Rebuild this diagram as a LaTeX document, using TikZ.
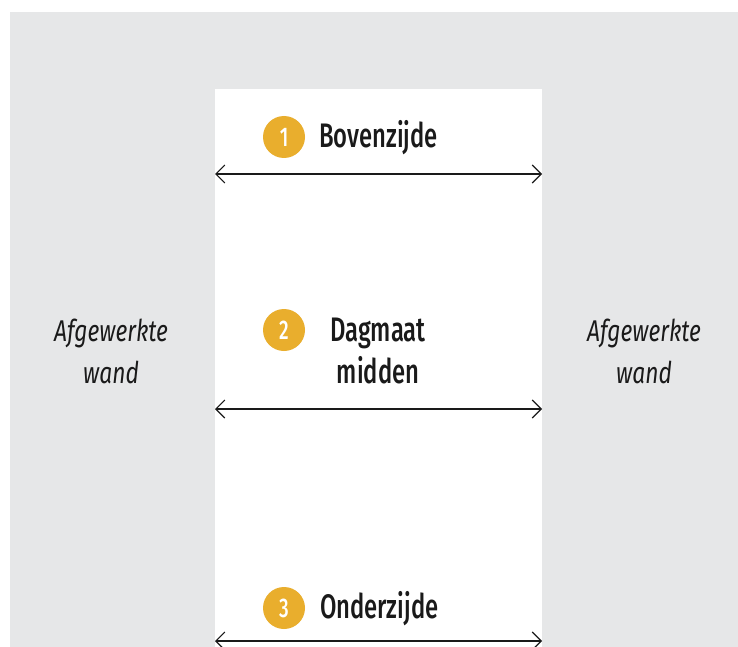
\documentclass[tikz,border=0pt]{standalone}
\usepackage{fontspec}
\setmainfont[FakeStretch=0.78]{Fira Sans}
\newfontfamily\labfont[FakeStretch=0.70,UprightFont=* Medium]{Fira Sans}
\newfontfamily\wallfont[FakeStretch=0.76]{Fira Sans}
\usetikzlibrary{arrows.meta}
\definecolor{wallgray}{HTML}{E6E7E8}
\definecolor{badge}{HTML}{E9AE2D}
\definecolor{ink}{HTML}{1A1A1A}
\begin{document}
\begin{tikzpicture}[x=1pt,y=-1pt,
  badgecirc/.style={circle,fill=badge,minimum size=42pt,inner sep=0pt,text=white,font=\labfont\fontsize{27}{27}\selectfont},
  lab/.style={anchor=base west,text=ink,font=\labfont\fontsize{34}{42}\selectfont,inner sep=0pt},
  wall/.style={text=ink,font=\wallfont\itshape\fontsize{30}{42}\selectfont,align=center,inner sep=0pt},
  dim/.style={draw=ink,line width=1.1pt,{Straight Barb[length=9pt,width=18pt,line width=1.1pt]}-{Straight Barb[length=9pt,width=18pt,line width=1.1pt]}}]
\useasboundingbox (0,0) rectangle (738,647);
\fill[wallgray] (10,12) rectangle (738,647);
\fill[white] (215,89) rectangle (542,647);
% badges
\node[badgecirc] (b1) at (284,137) {1};
\node[badgecirc] (b2) at (284,330) {2};
\node[badgecirc] (b3) at (284,608) {3};
% labels
\node[lab] (t1) at (319,148) {Bovenzijde};
\node[anchor=base,text=ink,font=\labfont\fontsize{34}{42}\selectfont,inner sep=0pt,align=center] (t2) at (378,383) {Dagmaat\\midden};
\node[lab] (t3) at (320,618) {Onderzijde};
% walls
\node[wall,anchor=base] (w1) at (111,383) {Afgewerkte\\wand};
\node[wall,anchor=base] (w2) at (644,383) {Afgewerkte\\wand};
% dimension arrows
\coordinate (a1l) at (215,174); \coordinate (a1r) at (542,174);
\coordinate (a2l) at (215,409); \coordinate (a2r) at (542,409);
\coordinate (a3l) at (215,641); \coordinate (a3r) at (542,641);
\draw[dim] (a1l) -- (a1r);
\draw[dim] (a2l) -- (a2r);
\draw[dim] (a3l) -- (a3r);
\end{tikzpicture}
\end{document}
